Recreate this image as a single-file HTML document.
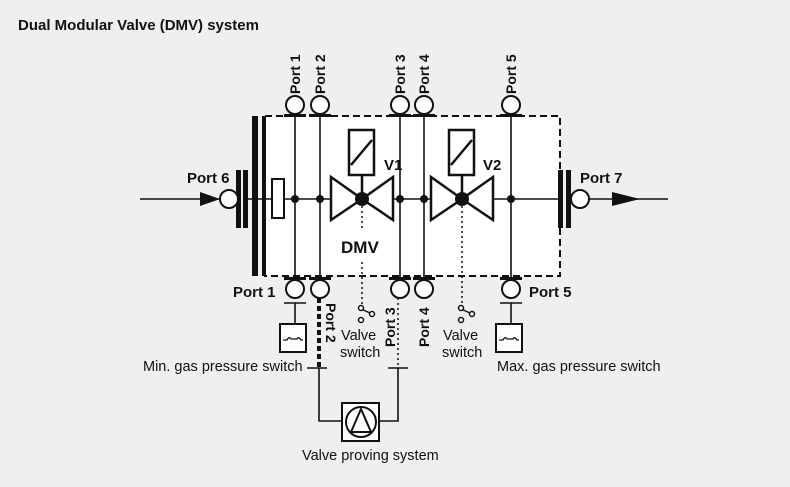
<!DOCTYPE html>
<html><head><meta charset="utf-8"><style>
html,body{margin:0;padding:0;background:#efefef;}
svg{display:block;font-family:"Liberation Sans",Arial,sans-serif;}
.b{font-weight:bold;font-size:14px;fill:#111;}
.n{font-size:14.5px;fill:#111;}
</style></head><body>
<svg width="790" height="487" viewBox="0 0 790 487" xmlns="http://www.w3.org/2000/svg">
<rect width="790" height="487" fill="#efefef"/>
<text x="18" y="30" class="b" style="font-size:15px">Dual Modular Valve (DMV) system</text>
<rect x="265" y="116" width="295" height="160" fill="#fff"/>
<rect x="265" y="116" width="295" height="160" fill="none" stroke="#111" stroke-width="2" stroke-dasharray="7,4"/>
<rect x="252" y="116" width="6" height="160" fill="#111"/>
<rect x="262" y="116" width="4" height="160" fill="#111"/>
<rect x="236" y="170" width="5" height="58" fill="#111"/>
<rect x="243" y="170" width="5" height="58" fill="#111"/>
<rect x="558" y="170" width="5" height="58" fill="#111"/>
<rect x="566" y="170" width="5" height="58" fill="#111"/>
<g stroke="#111" stroke-width="1.6" fill="none">
<line x1="140" y1="199" x2="220" y2="199"/>
<line x1="248" y1="199" x2="558" y2="199"/>
<line x1="589" y1="199" x2="668" y2="199"/>
<line x1="295" y1="115" x2="295" y2="280"/>
<line x1="320" y1="115" x2="320" y2="280"/>
<line x1="400" y1="115" x2="400" y2="280"/>
<line x1="424" y1="115" x2="424" y2="280"/>
<line x1="511" y1="115" x2="511" y2="280"/>
</g>
<polygon points="200,192 220,199 200,206" fill="#111"/>
<polygon points="612,192 640,199 612,206" fill="#111"/>
<g stroke="#111" stroke-width="2" fill="#fff">
<circle cx="229" cy="199" r="9"/>
<circle cx="580" cy="199" r="9"/>
<circle cx="295" cy="105" r="9"/><circle cx="320" cy="105" r="9"/>
<circle cx="400" cy="105" r="9"/><circle cx="424" cy="105" r="9"/>
<circle cx="511" cy="105" r="9"/>
<circle cx="295" cy="289" r="9"/><circle cx="320" cy="289" r="9"/>
<circle cx="400" cy="289" r="9"/><circle cx="424" cy="289" r="9"/>
<circle cx="511" cy="289" r="9"/>
</g>
<g fill="#111">
<rect x="284" y="114" width="22" height="3"/><rect x="309" y="114" width="22" height="3"/>
<rect x="389" y="114" width="22" height="3"/><rect x="413" y="114" width="22" height="3"/>
<rect x="500" y="114" width="22" height="3"/>
<rect x="284" y="277" width="22" height="3"/><rect x="309" y="277" width="22" height="3"/>
<rect x="389" y="277" width="22" height="3"/><rect x="413" y="277" width="22" height="3"/>
<rect x="500" y="277" width="22" height="3"/>
<circle cx="295" cy="199" r="4"/><circle cx="320" cy="199" r="4"/>
<circle cx="400" cy="199" r="4"/><circle cx="424" cy="199" r="4"/>
<circle cx="511" cy="199" r="4"/>
</g>
<rect x="272" y="179" width="12" height="39" fill="#fff" stroke="#111" stroke-width="2"/>
<g stroke="#111" stroke-width="2.5" fill="#fff">
<polygon points="331,177 362,199 331,220"/><polygon points="393,177 362,199 393,220"/>
<polygon points="431,177 462,199 431,220"/><polygon points="493,177 462,199 493,220"/>
<rect x="349" y="130" width="25" height="45"/>
<rect x="449" y="130" width="25" height="45"/>
<line x1="351" y1="165" x2="372" y2="140"/>
<line x1="451" y1="165" x2="472" y2="140"/>
<line x1="362" y1="175" x2="362" y2="199"/>
<line x1="462" y1="175" x2="462" y2="199"/>
</g>
<circle cx="362" cy="199" r="7" fill="#111"/>
<circle cx="462" cy="199" r="7" fill="#111"/>
<g stroke="#111" stroke-width="1.5" stroke-dasharray="2,3" fill="none">
<line x1="362" y1="206" x2="362" y2="228"/>
<line x1="362" y1="262" x2="362" y2="306"/>
<line x1="462" y1="206" x2="462" y2="306"/>
<line x1="398" y1="298" x2="398" y2="368"/>
</g>
<line x1="319" y1="298" x2="319" y2="368" stroke="#111" stroke-width="4" stroke-dasharray="5,3"/>
<text x="384" y="170" class="b" style="font-size:15px">V1</text>
<text x="483" y="170" class="b" style="font-size:15px">V2</text>
<text x="341" y="253" class="b" style="font-size:17px">DMV</text>
<g stroke="#111" stroke-width="1.5" fill="#fff">
<circle cx="361" cy="320" r="2.5"/><circle cx="372" cy="314" r="2.5"/><line x1="361" y1="309" x2="370" y2="313"/><circle cx="361" cy="308" r="2.5"/>
<circle cx="461" cy="320" r="2.5"/><circle cx="472" cy="314" r="2.5"/><line x1="461" y1="309" x2="470" y2="313"/><circle cx="461" cy="308" r="2.5"/>
</g>
<text x="341" y="340" class="n">Valve</text><text x="340" y="357" class="n">switch</text>
<text x="443" y="340" class="n">Valve</text><text x="442" y="357" class="n">switch</text>
<g stroke="#111" stroke-width="1.6" fill="none">
<line x1="284" y1="303" x2="306" y2="303"/><line x1="295" y1="303" x2="295" y2="324"/>
<line x1="500" y1="303" x2="522" y2="303"/><line x1="511" y1="303" x2="511" y2="324"/>
<line x1="307" y1="368" x2="327" y2="368"/><line x1="388" y1="368" x2="408" y2="368"/>
<polyline points="319,368 319,421 342,421"/>
<polyline points="398,368 398,421 379,421"/>
</g>
<g stroke="#111" stroke-width="2" fill="#fff">
<rect x="280" y="324" width="26" height="28"/>
<rect x="496" y="324" width="26" height="28"/>
<rect x="342" y="403" width="37" height="38"/>
<circle cx="361" cy="422" r="15"/>
<polygon points="361,409 351,432 371,432"/>
</g>
<g stroke="#111" stroke-width="1.3" fill="none">
<path d="M283,340 h4 q2,-4 4,-1 h6 q2,-3 4,1 h2"/>
<path d="M499,340 h4 q2,-4 4,-1 h6 q2,-3 4,1 h2"/>
</g>
<text x="143" y="371" class="n">Min. gas pressure switch</text>
<text x="497" y="371" class="n">Max. gas pressure switch</text>
<text x="302" y="460" class="n">Valve proving system</text>
<text x="187" y="183" class="b" style="font-size:15px">Port 6</text>
<text x="580" y="183" class="b" style="font-size:15px">Port 7</text>
<text x="233" y="297" class="b" style="font-size:15px">Port 1</text>
<text x="529" y="297" class="b" style="font-size:15px">Port 5</text>
<text transform="translate(300,94) rotate(-90)" class="b">Port 1</text>
<text transform="translate(325,94) rotate(-90)" class="b">Port 2</text>
<text transform="translate(405,94) rotate(-90)" class="b">Port 3</text>
<text transform="translate(429,94) rotate(-90)" class="b">Port 4</text>
<text transform="translate(516,94) rotate(-90)" class="b">Port 5</text>
<text transform="translate(326,303) rotate(90)" class="b">Port 2</text>
<text transform="translate(395,347) rotate(-90)" class="b">Port 3</text>
<text transform="translate(429,347) rotate(-90)" class="b">Port 4</text>
</svg>
</body></html>
